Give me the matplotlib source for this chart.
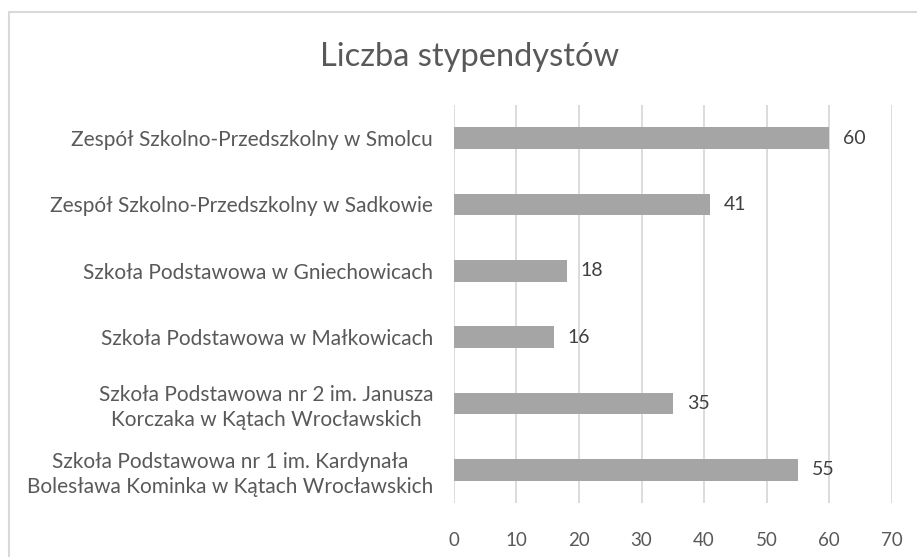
import matplotlib
matplotlib.use("Agg")
import matplotlib.pyplot as plt
from matplotlib.patches import Rectangle

# data, listed top to bottom as in the chart
schools = [
    "Zespół Szkolno-Przedszkolny w Smolcu",
    "Zespół Szkolno-Przedszkolny w Sadkowie",
    "Szkoła Podstawowa w Gniechowicach",
    "Szkoła Podstawowa w Małkowicach",
    "Szkoła Podstawowa nr 2 im. Janusza\nKorczaka w Kątach Wrocławskich",
    "Szkoła Podstawowa nr 1 im. Kardynała\nBolesława Kominka w Kątach Wrocławskich",
]
counts = [60, 41, 18, 16, 35, 55]
x_ticks = [0, 10, 20, 30, 40, 50, 60, 70]

TEXT = "#595959"
BAR = "#a5a5a5"
GRID = "#d9d9d9"

plt.rcParams["font.family"] = ["Lato", "DejaVu Sans"]

fig = plt.figure(figsize=(9.17, 5.57), dpi=100)
ax = fig.add_axes([0.495, 0.097, 0.4775, 0.7145])

pos = list(range(len(schools)))[::-1]
ax.barh(pos, counts, height=0.33, color=BAR, zorder=3)

for p, c in zip(pos, counts):
    ax.annotate(str(c), (c, p), xytext=(10, 0), textcoords="offset points",
                va="center", ha="left", fontsize=14, color="#404040")

ax.set_xlim(0, 70)
ax.set_ylim(-0.5, len(schools) - 0.5)
ax.set_xticks(x_ticks)
ax.set_yticks(pos)
ax.set_yticklabels(schools, multialignment="center", linespacing=1.3)
ax.tick_params(axis="y", length=0, colors=TEXT, labelsize=15, pad=15)
ax.tick_params(axis="x", length=0, colors=TEXT, labelsize=13.5, pad=21)
ax.grid(axis="x", color=GRID, linewidth=1.3, zorder=0)
for s in ax.spines.values():
    s.set_visible(False)

fig.text(0.5125, 0.898, "Liczba stypendystów", ha="center", va="center",
         fontsize=23.5, color=TEXT)

# outer chart frame (cut off on the right and bottom in the original)
fig.patches.append(Rectangle((9 / 917, -0.05), 1.2, 1 - 12 / 557 + 0.05,
                             transform=fig.transFigure, fill=False,
                             edgecolor=GRID, linewidth=1.5))

fig.savefig("out.png", dpi=100)
